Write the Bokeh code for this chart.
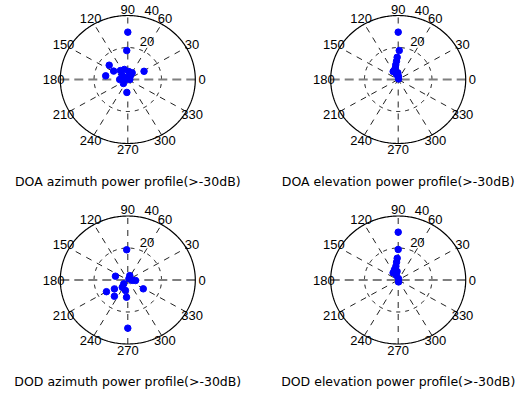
import numpy as np
from bokeh.plotting import figure
from bokeh.layouts import column, row
from bokeh.models import Range1d
from bokeh.core.properties import value
from bokeh.embed import file_html
from bokeh.resources import INLINE

# ---------------- data ----------------
RMAX = 40
RING_VALUES = [20, 40]
ANGLE_TICKS = [0, 30, 60, 90, 120, 150, 180, 210, 240, 270, 300, 330]

doa_az_theta = [90, 92, 141, 148, 170, 28, 266, 128, 108, 83, 58, 143, 105, 57, 197, 0, 180, 224]
doa_az_r = [29.6, 18.1, 14.2, 9.9, 13.3, 10.9, 8.1, 7.1, 6.6, 5.0, 4.9, 4.2, 1.5, 3.0, 2.1, 1.2, 4.8, 3.6]

doa_el_theta = [90, 88, 92.5, 95, 99, 104, 121, 108, 84, 60, 93, 112]
doa_el_r = [29.6, 18.1, 13.9, 11.5, 9.3, 7.3, 5.8, 3.3, 1.9, 0.4, 4.2, 6.0]

dod_az_theta = [92, 270, 162, 329, 210, 215, 232, 356, 266, 50, 225, 355, 258, 234, 67]
dod_az_r = [18.9, 30.1, 7.7, 10.7, 14.6, 9.7, 12.9, 4.6, 10.8, 1.0, 3.4, 2.6, 6.7, 5.6, 3.0]

dod_el_theta = [90, 90, 92.5, 95, 99, 108, 124, 110, 75, 280, 97]
dod_el_r = [29.9, 19.1, 13.6, 11.2, 8.7, 6.9, 5.4, 3.0, 0.8, 1.2, 5.4]

titles = [
    "DOA azimuth power profile(>-30dB)",
    "DOA elevation power profile(>-30dB)",
    "DOD azimuth power profile(>-30dB)",
    "DOD elevation power profile(>-30dB)",
]

# ---------------- layout constants ----------------
SX = 67.5 / RMAX   # px per unit horizontally
SY = 64.0 / RMAX   # px per unit vertically
W = 262
LABEL_FONT = value("Liberation Sans")
TITLE_FONT = value("DejaVu Sans")


def polar_panel(theta_deg, r, title, cx_px, cy_px, H, title_px):
    p = figure(width=W, height=H, output_backend="svg", toolbar_location=None,
               x_axis_type=None, y_axis_type=None, min_border=0,
               x_range=Range1d(-cx_px / SX, (W - cx_px) / SX),
               y_range=Range1d(-(H - cy_px) / SY, cy_px / SY))
    p.outline_line_color = None
    p.background_fill_color = "white"
    p.border_fill_color = "white"

    t = np.linspace(0, 2 * np.pi, 361)
    # inner dashed ring(s)
    for rv in RING_VALUES[:-1]:
        p.line(rv * np.cos(t), rv * np.sin(t), line_color="black", line_width=1,
               line_dash="4 5")
    # spokes
    for ang in range(0, 180, 30):
        a = np.deg2rad(ang)
        xs = [-RMAX * np.cos(a), RMAX * np.cos(a)]
        ys = [-RMAX * np.sin(a), RMAX * np.sin(a)]
        if ang == 0:
            p.line(xs, ys, line_color="#7f7f7f", line_width=2, line_dash="9 5")
        else:
            p.line(xs, ys, line_color="#222222", line_width=1, line_dash="6 6")
    # outer solid circle
    p.line(RMAX * np.cos(t), RMAX * np.sin(t), line_color="black", line_width=1.2)

    # angle labels
    ta = np.deg2rad(ANGLE_TICKS)
    rt = 1.1 * RMAX
    p.text(rt * np.cos(ta), rt * np.sin(ta), text=[str(a) for a in ANGLE_TICKS],
           text_align="center", text_baseline="middle", text_font=LABEL_FONT,
           text_font_size="13px", text_color="black")
    # ring labels at 82 degrees
    c82, s82 = np.cos(np.deg2rad(82)), np.sin(np.deg2rad(82))
    rr = np.array(RING_VALUES, dtype=float) + RMAX / 40.0
    p.text(rr * c82, rr * s82, text=[str(v) for v in RING_VALUES],
           text_align="left", text_baseline="bottom", x_offset=7,
           text_font=LABEL_FONT, text_font_size="13px", text_color="black")

    # data points
    th = np.deg2rad(theta_deg)
    rad = np.array(r)
    p.scatter(rad * np.cos(th), rad * np.sin(th), size=6.5, color="#0000ff")

    # caption below the plot
    p.text([0], [(cy_px - title_px) / SY], text=[title], text_align="center",
           text_baseline="middle", text_font=TITLE_FONT, text_font_size="12.5px",
           text_color="black")
    return p


TOP_H = 196
BOT_H = 396 - TOP_H
p1 = polar_panel(doa_az_theta, doa_az_r, titles[0], 127.3, 79, TOP_H, 181)
p2 = polar_panel(doa_el_theta, doa_el_r, titles[1], 135.7, 79, TOP_H, 181)
p3 = polar_panel(dod_az_theta, dod_az_r, titles[2], 127.3, 279.5 - TOP_H, BOT_H, 381 - TOP_H)
p4 = polar_panel(dod_el_theta, dod_el_r, titles[3], 135.7, 279.5 - TOP_H, BOT_H, 381 - TOP_H)

layout = column(row(p1, p2), row(p3, p4))

open("out.html", "w").write(file_html(layout, INLINE))
